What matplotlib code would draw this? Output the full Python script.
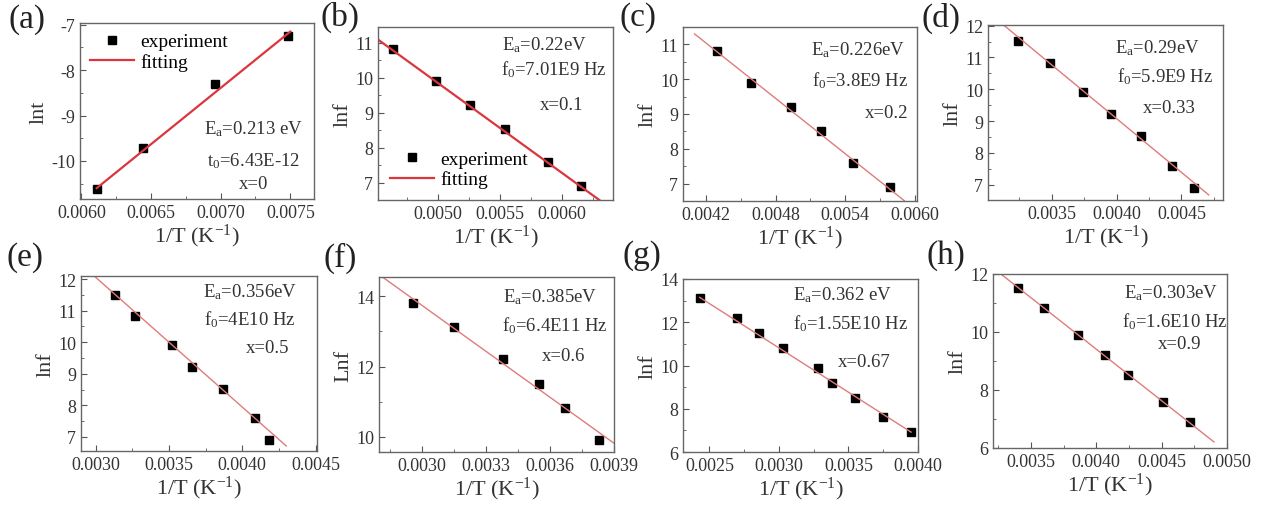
import matplotlib
matplotlib.use('Agg')
import matplotlib.pyplot as plt
from matplotlib.ticker import MultipleLocator, FormatStrFormatter

plt.rcParams['font.family'] = ['Liberation Serif', 'DejaVu Serif']
plt.rcParams['mathtext.fontset'] = 'custom'
plt.rcParams['mathtext.rm'] = 'Liberation Serif'
plt.rcParams['mathtext.it'] = 'Liberation Serif:italic'

# ---- data ----
# (a) relaxation time, x=0
xa = [0.00611, 0.00644, 0.00696, 0.00748]
ya = [-10.61, -9.72, -8.30, -7.24]
fit_xa = [0.00611, 0.00750]
fit_ya = [-10.60, -7.15]

# (b) x=0.1
xb = [0.00464, 0.00499, 0.00526, 0.00554, 0.00589, 0.00615]
yb = [10.82, 9.90, 9.21, 8.52, 7.60, 6.91]
fit_xb = [0.00452, 0.00630]
fit_yb = [11.09, 6.50]

# (c) x=0.2
xc = [0.00429, 0.00459, 0.00493, 0.00519, 0.00547, 0.00579]
yc = [10.82, 9.90, 9.21, 8.52, 7.60, 6.91]
fit_xc = [0.00410, 0.00591]
fit_yc = [11.30, 6.51]

# (d) x=0.33
xd = [0.00324, 0.00349, 0.00374, 0.00396, 0.00419, 0.00443, 0.00460]
yd = [11.51, 10.82, 9.90, 9.21, 8.52, 7.60, 6.91]
fit_xd = [0.00313, 0.00471]
fit_yd = [12.02, 6.68]

# (e) x=0.5
xe = [0.00313, 0.00327, 0.00352, 0.00366, 0.00387, 0.00409, 0.00418]
ye = [11.51, 10.82, 9.90, 9.21, 8.52, 7.60, 6.91]
fit_xe = [0.00299, 0.00430]
fit_ye = [12.10, 6.71]

# (f) x=0.6
xf = [0.00296, 0.00315, 0.00338, 0.00355, 0.00367, 0.00383]
yf = [13.82, 13.12, 12.21, 11.51, 10.82, 9.90]
fit_xf = [0.00280, 0.00390]
fit_yf = [14.62, 9.82]

# (g) x=0.67
xg = [0.00243, 0.00270, 0.00286, 0.00303, 0.00328, 0.00338, 0.00355, 0.00375, 0.00395]
yg = [13.12, 12.21, 11.51, 10.82, 9.90, 9.21, 8.52, 7.60, 6.91]
fit_xg = [0.00243, 0.00395]
fit_yg = [13.15, 6.92]

# (h) x=0.9
xh = [0.00340, 0.00360, 0.00386, 0.00407, 0.00424, 0.00451, 0.00472]
yh = [11.51, 10.82, 9.90, 9.21, 8.52, 7.60, 6.91]
fit_xh = [0.00327, 0.00490]
fit_yh = [12.00, 6.21]

W, H = 1265, 506
fig = plt.figure(figsize=(W / 100, H / 100), dpi=100)


def make_axes(l, r, t, b):
    return fig.add_axes([l / W, 1 - b / H, (r - l) / W, (b - t) / H])


def style(ax, xlim, ylim, xmaj, ymaj, ylabel):
    ax.set_xlim(xlim)
    ax.set_ylim(ylim)
    ax.xaxis.set_major_locator(MultipleLocator(xmaj))
    ax.xaxis.set_minor_locator(MultipleLocator(xmaj / 2))
    ax.yaxis.set_major_locator(MultipleLocator(ymaj))
    ax.yaxis.set_minor_locator(MultipleLocator(ymaj / 2))
    ax.xaxis.set_major_formatter(FormatStrFormatter('%.4f'))
    ax.yaxis.set_major_formatter(FormatStrFormatter('%g'))
    ax.tick_params(which='both', direction='in', colors='#555555',
                   labelcolor='#333333', labelsize=13)
    ax.tick_params(which='major', length=4)
    ax.tick_params(which='minor', length=2.5)
    for s in ax.spines.values():
        s.set_color('#666666')
        s.set_linewidth(1.0)
    ax.set_xlabel('1/T (K$^{-1}$)', fontsize=16, color='#333333', labelpad=1)
    ax.set_ylabel(ylabel, fontsize=16, color='#333333', labelpad=2)


def notes(ax, lines):
    for xx, yy, s in lines:
        ax.text(xx, yy, s, transform=ax.transAxes, ha='center', va='center',
                fontsize=13.5, color='#333333')


# (a)
ax = make_axes(80, 314, 24, 200)
ax.plot(xa, ya, 's', color='black', markersize=6, label='experiment')
ax.plot(fit_xa, fit_ya, color='#d9363e', lw=1.6, label='fitting')
style(ax, (0.00599, 0.00767), (-10.84, -6.96), 0.0005, 1, 'lnt')
ax.legend(loc='upper left', frameon=False, fontsize=14, handlelength=2.3,
          borderaxespad=0.1, handletextpad=0.3, labelspacing=0.15)
notes(ax, [(0.74, 0.40, 'E$_\\mathrm{a}$=0.213 eV'),
           (0.74, 0.22, 't$_\\mathrm{0}$=6.43E-12'),
           (0.74, 0.09, 'x=0')])

# (b)
ax = make_axes(378, 613, 28, 201)
ax.plot(xb, yb, 's', color='black', markersize=6, label='experiment')
ax.plot(fit_xb, fit_yb, color='#d9363e', lw=1.6, label='fitting')
style(ax, (0.00452, 0.00641), (6.5, 11.45), 0.0005, 1, 'lnf')
ax.legend(loc='lower left', frameon=False, fontsize=14, handlelength=2.3,
          borderaxespad=0.2, handletextpad=0.3, labelspacing=0.15)
notes(ax, [(0.71, 0.90, 'E$_\\mathrm{a}$=0.22eV'),
           (0.75, 0.76, 'f$_\\mathrm{0}$=7.01E9 Hz'),
           (0.78, 0.55, 'x=0.1')])

# (c)
ax = make_axes(683, 917, 28, 202)
ax.plot(xc, yc, 's', color='black', markersize=6)
ax.plot(fit_xc, fit_yc, color='#e07b7b', lw=1.0)
style(ax, (0.0040, 0.00602), (6.5, 11.5), 0.0006, 1, 'lnf')
notes(ax, [(0.75, 0.874, 'E$_\\mathrm{a}$=0.226eV'),
           (0.756, 0.70, 'f$_\\mathrm{0}$=3.8E9 Hz'),
           (0.87, 0.51, 'x=0.2')])

# (d)
ax = make_axes(988, 1223, 26, 201)
ax.plot(xd, yd, 's', color='black', markersize=6)
ax.plot(fit_xd, fit_yd, color='#e07b7b', lw=1.0)
style(ax, (0.00301, 0.00482), (6.52, 12.02), 0.0005, 1, 'lnf')
notes(ax, [(0.72, 0.874, 'E$_\\mathrm{a}$=0.29eV'),
           (0.755, 0.71, 'f$_\\mathrm{0}$=5.9E9 Hz'),
           (0.77, 0.53, 'x=0.33')])

# (e)
ax = make_axes(81, 317, 277, 452)
ax.plot(xe, ye, 's', color='black', markersize=6)
ax.plot(fit_xe, fit_ye, color='#e07b7b', lw=1.0)
style(ax, (0.0029, 0.00451), (6.55, 12.1), 0.0005, 1, 'lnf')
notes(ax, [(0.716, 0.914, 'E$_\\mathrm{a}$=0.356eV'),
           (0.716, 0.754, 'f$_\\mathrm{0}$=4E10 Hz'),
           (0.79, 0.594, 'x=0.5')])

# (f)
ax = make_axes(379, 614, 278, 453)
ax.plot(xf, yf, 's', color='black', markersize=6)
ax.plot(fit_xf, fit_yf, color='#e07b7b', lw=1.0)
style(ax, (0.0028, 0.0039), (9.57, 14.55), 0.0003, 2, 'Lnf')
notes(ax, [(0.728, 0.89, 'E$_\\mathrm{a}$=0.385eV'),
           (0.749, 0.73, 'f$_\\mathrm{0}$=6.4E11 Hz'),
           (0.787, 0.55, 'x=0.6')])

# (g)
ax = make_axes(683, 918, 280, 453)
ax.plot(xg, yg, 's', color='black', markersize=6)
ax.plot(fit_xg, fit_yg, color='#e07b7b', lw=1.0)
style(ax, (0.00231, 0.0040), (6, 14), 0.0005, 2, 'lnf')
notes(ax, [(0.68, 0.913, 'E$_\\mathrm{a}$=0.362 eV'),
           (0.715, 0.746, 'f$_\\mathrm{0}$=1.55E10 Hz'),
           (0.77, 0.526, 'x=0.67')])

# (h)
ax = make_axes(993, 1227, 275, 449)
ax.plot(xh, yh, 's', color='black', markersize=6)
ax.plot(fit_xh, fit_yh, color='#e07b7b', lw=1.0)
style(ax, (0.00321, 0.0050), (6, 12), 0.0005, 2, 'lnf')
notes(ax, [(0.76, 0.897, 'E$_\\mathrm{a}$=0.303eV'),
           (0.776, 0.73, 'f$_\\mathrm{0}$=1.6E10 Hz'),
           (0.799, 0.60, 'x=0.9')])

# panel letters (pixel positions of their centres)
for s, cx, cy in [('(a)', 27, 20), ('(b)', 340, 17), ('(c)', 638, 18), ('(d)', 941, 18),
                  ('(e)', 25, 258), ('(f)', 340, 258), ('(g)', 642, 256), ('(h)', 946, 256)]:
    fig.text(cx / W, 1 - cy / H, s, fontsize=24, ha='center', va='center', color='#222222')

fig.savefig('out.png', dpi=100)
